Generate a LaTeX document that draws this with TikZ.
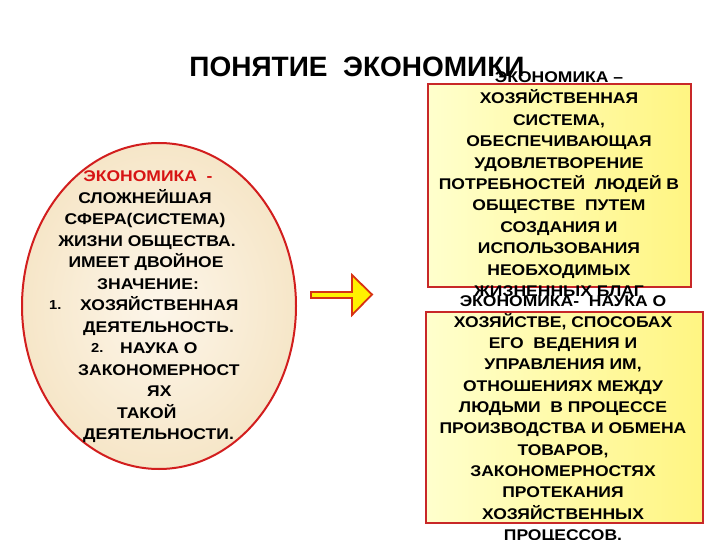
\documentclass[tikz,border=0pt]{standalone}
\usepackage{fontspec}
\setmainfont{Liberation Sans}
\newfontfamily\widesans[FakeStretch=1.13]{Liberation Sans}
\usetikzlibrary{shapes.geometric}
\definecolor{boxred}{RGB}{200,40,40}
\definecolor{ellred}{RGB}{210,30,30}
\definecolor{ellin}{RGB}{253,246,234}
\definecolor{ellout}{RGB}{246,230,200}
\definecolor{ylA}{RGB}{255,255,205}
\definecolor{ylB}{RGB}{255,245,130}
\definecolor{arrred}{RGB}{215,50,20}
\definecolor{titred}{RGB}{215,20,20}
\tikzset{
  ln/.style={inner sep=0pt, text height=11.1pt, text depth=0pt, font=\widesans\bfseries\fontsize{15.5}{18}\selectfont},
  bx/.style={draw=boxred, line width=2pt, left color=ylA, right color=ylB},
}
\begin{document}
\begin{tikzpicture}[x=1pt,y=-1pt]
\useasboundingbox[fill=white] (0,0) rectangle (720,540);
% title
\node[inner sep=0pt, text height=20pt, text depth=0pt, font=\bfseries\fontsize{28}{30}\selectfont] (title) at (357,67) {ПОНЯТИЕ\ \ ЭКОНОМИКИ};
% ellipse
\node[draw=ellred, line width=2pt, ellipse, inner color=ellin, outer color=ellout, minimum width=274pt, minimum height=326pt, inner sep=0pt] (ell) at (159,306) {};
% ellipse text
\node[ln, text=titred] (e1) at (148,176) {ЭКОНОМИКА\ \ -};
\node[ln] (e2) at (145,197.5) {СЛОЖНЕЙШАЯ};
\node[ln] (e3) at (145,219) {СФЕРА(СИСТЕМА)};
\node[ln] (e4) at (147,240.5) {ЖИЗНИ ОБЩЕСТВА.};
\node[ln] (e5) at (146,262) {ИМЕЕТ ДВОЙНОЕ};
\node[ln] (e6) at (148,283.5) {ЗНАЧЕНИЕ:};
\node[ln, anchor=west, font=\widesans\bfseries\fontsize{13}{15}\selectfont, text height=9.3pt] (n1) at (49,305) {1.};
\node[ln, anchor=west] (e7) at (80,305) {ХОЗЯЙСТВЕННАЯ};
\node[ln, anchor=west] (e8) at (83,326.5) {ДЕЯТЕЛЬНОСТЬ.};
\node[ln, anchor=west, font=\widesans\bfseries\fontsize{13}{15}\selectfont, text height=9.3pt] (n2) at (91,348) {2.};
\node[ln, anchor=west] (e9) at (120,348) {НАУКА О};
\node[ln, anchor=west] (e10) at (78,369.5) {ЗАКОНОМЕРНОСТ};
\node[ln, anchor=west] (e11) at (147,391) {ЯХ};
\node[ln, anchor=west] (e12) at (117,412.5) {ТАКОЙ};
\node[ln, anchor=west] (e13) at (83,434) {ДЕЯТЕЛЬНОСТИ.};
% arrow
\path[draw=arrred, line width=1.8pt, fill=yellow, line join=miter]
  (311,292) -- (352,292) -- (352,275) -- (372,294.5) -- (352,315) -- (352,298) -- (311,298) -- cycle;
% box 1
\node[bx, minimum width=263pt, minimum height=203pt, inner sep=0pt] (b1) at (559,185.5) {};
\foreach \t [count=\i] in {{ЭКОНОМИКА –},{ХОЗЯЙСТВЕННАЯ},{СИСТЕМА,},{ОБЕСПЕЧИВАЮЩАЯ},{УДОВЛЕТВОРЕНИЕ},{ПОТРЕБНОСТЕЙ\ \ ЛЮДЕЙ В},{ОБЩЕСТВЕ\ \ ПУТЕМ},{СОЗДАНИЯ И},{ИСПОЛЬЗОВАНИЯ},{НЕОБХОДИМЫХ},{ЖИЗНЕННЫХ\ БЛАГ}}
  \node[ln] (t\i) at (559,{77+21.4*(\i-1)}) {\t};
% box 2
\node[bx, minimum width=277pt, minimum height=211pt, inner sep=0pt] (b2) at (564.5,417.5) {};
\foreach \t [count=\i] in {{ЭКОНОМИКА-\ \ НАУКА О},{ХОЗЯЙСТВЕ, СПОСОБАХ},{ЕГО\ \ ВЕДЕНИЯ И},{УПРАВЛЕНИЯ ИМ,},{ОТНОШЕНИЯХ МЕЖДУ},{ЛЮДЬМИ\ \ В ПРОЦЕССЕ},{ПРОИЗВОДСТВА И ОБМЕНА},{ТОВАРОВ,},{ЗАКОНОМЕРНОСТЯХ},{ПРОТЕКАНИЯ},{ХОЗЯЙСТВЕННЫХ},{ПРОЦЕССОВ.}}
  \node[ln] (u\i) at (563,{300.5+21.3*(\i-1)}) {\t};
\end{tikzpicture}
\end{document}
